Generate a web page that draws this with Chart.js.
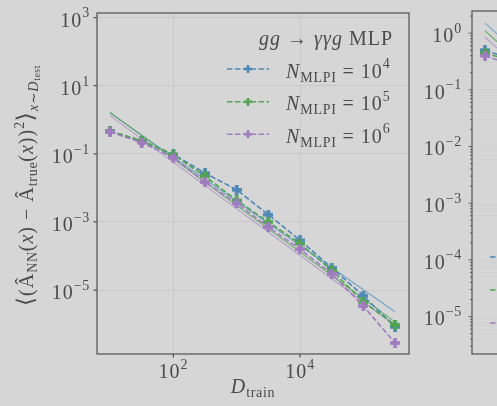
<!DOCTYPE html>
<html><head><meta charset="utf-8">
<script src="https://cdn.jsdelivr.net/npm/chart.js@4.4.0/dist/chart.umd.min.js"></script>
<style>
html,body{margin:0;padding:0;background:#d6d6d6;width:497px;height:406px;overflow:hidden;position:relative}
canvas{position:absolute;top:0}
#c1{left:0}
#c2{left:415px}
</style></head><body>
<canvas id="c1" width="497" height="406"></canvas>
<canvas id="c2" width="400" height="406"></canvas>
<script>
// ---------- data (left panel: gg -> γγg MLP) ----------
const trainSizes = [10, 31.6, 100, 316, 1000, 3162, 10000, 31623, 100000, 316228];
const mseN1e4 = [0.46, 0.236, 0.096, 0.0272, 0.0088, 1.63e-3, 2.9e-4, 4.5e-5, 6.8e-6, 8.3e-7];
const mseN1e5 = [0.47, 0.245, 0.095, 0.022, 4.3e-3, 1.0e-3, 2.3e-4, 3.8e-5, 4.5e-6, 9.5e-7];
const mseN1e6 = [0.44, 0.214, 0.078, 0.0148, 3.55e-3, 7.1e-4, 1.58e-4, 3.0e-5, 3.4e-6, 2.8e-7];
const fitX = [10, 316228];
const fitN1e4 = [1.58, 2.3e-6];
const fitN1e5 = [1.66, 1.15e-6];
const fitN1e6 = [1.32, 9.3e-7];
const seriesLabels = ['4', '5', '6'];
const leftYTicks = ['3', '1', '-1', '-3', '-5'];
const leftXTicks = ['2', '4'];
// ---------- data (right panel, only the left edge is in view) ----------
const rightX = [10, 31.6];
const rightN1e4 = [0.50, 0.32];
const rightN1e5 = [0.45, 0.30];
const rightN1e6 = [0.40, 0.26];
const rightFitN1e4 = [1.5, 4.7e-5];
const rightFitN1e5 = [1.1, 3.2e-5];
const rightFitN1e6 = [0.85, 2.4e-5];
const rightYTicks = ['0', '-1', '-2', '-3', '-4', '-5'];

// ---------- styles ----------
const BG = '#d6d6d6', TXT = '#4b4b4b', SPINE = '#565656', GRID = '#c8c8c8', MINORGRID = '#cecece';
const COL = ['#4d88b6', '#52a352', '#a07cc0'];
const FITCOL = ['rgba(100,155,195,0.85)', 'rgba(95,170,95,0.85)', 'rgba(175,145,200,0.85)'];
const SERIF = '"Liberation Serif","DejaVu Serif",serif';

function plusMarker(color, size, thick) {
  const c = document.createElement('canvas');
  c.width = size; c.height = size;
  const g = c.getContext('2d');
  g.fillStyle = color;
  const a = (size - thick) / 2;
  g.fillRect(a, 0, thick, size);
  g.fillRect(0, a, size, thick);
  return c;
}
function pts(xs, ys) { return xs.map((x, i) => ({x: x, y: ys[i]})); }
function fnt(sz, it) { return (it ? 'italic ' : '') + sz + 'px ' + SERIF; }
function setFont(ctx, s) {
  const sz = s.sz || 20;
  ctx.font = fnt(sz, s.it);
  ctx.letterSpacing = (sz * 0.05).toFixed(2) + 'px';
}
function richWidth(ctx, segs) {
  let w = 0;
  for (const s of segs) { setFont(ctx, s); w += ctx.measureText(s.t).width; }
  return w;
}
function drawRich(ctx, segs, x, y, align) {
  const w = richWidth(ctx, segs);
  let cx = align === 'right' ? x - w : align === 'center' ? x - w / 2 : x;
  ctx.textAlign = 'left'; ctx.textBaseline = 'alphabetic';
  for (const s of segs) {
    setFont(ctx, s);
    ctx.fillText(s.t, cx, y + (s.dy || 0));
    cx += ctx.measureText(s.t).width;
  }
  ctx.letterSpacing = '0px';
  return w;
}
function pow10(e) { return [{t: '10', sz: 20}, {t: e.replace('-', '\u2212'), sz: 14, dy: -9.4}]; }

function dataset(xs, ys, color, ord) {
  return {data: pts(xs, ys), borderColor: color, backgroundColor: color, borderWidth: 1.6,
    borderDash: [5.5, 2.4], pointStyle: plusMarker(color, 10, 3.6), pointRadius: 5,
    tension: 0, order: ord};
}
function fitset(xs, ys, color, ord) {
  return {data: pts(xs, ys), borderColor: color, borderWidth: 1.1, pointRadius: 0,
    tension: 0, order: ord};
}
function logScale(min, max, ticks, gridColor) {
  return {type: 'logarithmic', min: min, max: max, bounds: 'data',
    ticks: {display: false}, border: {display: false},
    grid: {drawTicks: false, color: gridColor || GRID, lineWidth: 0.9},
    afterBuildTicks: s => { s.ticks = ticks.map(v => ({value: v})); }};
}
function handle(ctx, x0, x1, y, color, withMarker) {
  ctx.save();
  ctx.strokeStyle = color; ctx.lineWidth = 1.6; ctx.setLineDash([5.5, 2.4]);
  ctx.beginPath(); ctx.moveTo(x0, y); ctx.lineTo(x1, y); ctx.stroke();
  ctx.restore();
  if (withMarker) {
    const m = plusMarker(color, 8, 2.6);
    ctx.drawImage(m, (x0 + x1) / 2 - 4, y - 4);
  }
}

// ---------- left chart ----------
const leftPlugin = {
  id: 'leftDecor',
  afterDraw(chart) {
    const ctx = chart.ctx, a = chart.chartArea;
    const xs = chart.scales.x, ys = chart.scales.y;
    ctx.save();
    ctx.strokeStyle = SPINE; ctx.lineWidth = 1.25;
    ctx.strokeRect(a.left, a.top, a.right - a.left, a.bottom - a.top);
    ctx.fillStyle = TXT;
    ctx.beginPath();
    for (const e of leftYTicks) {
      const py = ys.getPixelForValue(Math.pow(10, +e));
      ctx.moveTo(a.left - 3.5, py); ctx.lineTo(a.left, py);
    }
    for (const e of leftXTicks) {
      const px = xs.getPixelForValue(Math.pow(10, +e));
      ctx.moveTo(px, a.bottom); ctx.lineTo(px, a.bottom + 3.5);
    }
    ctx.stroke();
    for (const e of leftYTicks) {
      const py = ys.getPixelForValue(Math.pow(10, +e));
      drawRich(ctx, pow10(e), a.left - 7, py + 9.3, 'right');
    }
    for (const e of leftXTicks) {
      const px = xs.getPixelForValue(Math.pow(10, +e));
      drawRich(ctx, pow10(e), px, a.bottom + 24, 'center');
    }
    // x label
    drawRich(ctx, [{t: 'D', it: 1}, {t: 'train', sz: 14, dy: 4}], (a.left + a.right) / 2, 393, 'center');
    // y label
    ctx.save();
    ctx.translate(33, (a.top + a.bottom) / 2 + 2);
    ctx.rotate(-Math.PI / 2);
    drawRich(ctx, [
      {t: '\u27E8', sz: 23}, {t: '('}, {t: '\u00C2'}, {t: 'NN', sz: 14, dy: 4},
      {t: '('}, {t: 'x', it: 1}, {t: ')'}, {t: ' \u2212 '}, {t: '\u00C2'},
      {t: 'true', sz: 14, dy: 4}, {t: '('}, {t: 'x', it: 1}, {t: ')'}, {t: ')'},
      {t: '2', sz: 14, dy: -9}, {t: '\u27E9', sz: 23},
      {t: 'x', sz: 14, it: 1, dy: 5}, {t: '\u223C', sz: 14, dy: 5}, {t: 'D', sz: 14, it: 1, dy: 5},
      {t: 'test', sz: 10, dy: 7}
    ], 0, 0, 'center');
    ctx.restore();
    // legend
    drawRich(ctx, [{t: 'gg', it: 1}, {t: ' \u2192 '}, {t: '\u03B3\u03B3g', it: 1}, {t: ' MLP'}], 393, 45, 'right');
    const ly = [69, 101.7, 134.3];
    for (let i = 0; i < 3; i++) {
      handle(ctx, 227, 269, ly[i], COL[i], true);
      ctx.fillStyle = TXT;
      drawRich(ctx, [{t: 'N', it: 1}, {t: 'MLPI', sz: 14, dy: 4}, {t: ' = '}].concat(pow10(seriesLabels[i])), 286, ly[i] + 8.5, 'left');
    }
    ctx.restore();
  }
};

new Chart(document.getElementById('c1'), {
  type: 'line',
  data: {datasets: [
    dataset(trainSizes, mseN1e6, COL[2], 1),
    dataset(trainSizes, mseN1e5, COL[1], 2),
    dataset(trainSizes, mseN1e4, COL[0], 3),
    fitset(fitX, fitN1e6, FITCOL[2], 4),
    fitset(fitX, fitN1e5, FITCOL[1], 5),
    fitset(fitX, fitN1e4, FITCOL[0], 6)
  ]},
  options: {
    responsive: false, animation: false, devicePixelRatio: 1,
    layout: {padding: {left: 97, right: 88, top: 13, bottom: 52}},
    plugins: {legend: {display: false}, tooltip: {enabled: false}},
    scales: {
      x: logScale(Math.pow(10, 0.795), Math.pow(10, 5.72), [100, 10000]),
      y: logScale(Math.pow(10, -6.877), Math.pow(10, 3.135), [1e-5, 1e-3, 1e-1, 10, 1000])
    }
  },
  plugins: [leftPlugin]
});

// ---------- right chart ----------
const rightMinor = [];
for (let k = -6; k <= 0; k++) for (let m = 1; m <= 9; m++) {
  const v = m * Math.pow(10, k);
  if (v > Math.pow(10, -5.66) && v < Math.pow(10, 0.39)) rightMinor.push(v);
}
const rightPlugin = {
  id: 'rightDecor',
  afterDraw(chart) {
    const ctx = chart.ctx, a = chart.chartArea, ys = chart.scales.y;
    ctx.save();
    ctx.strokeStyle = SPINE; ctx.lineWidth = 1.25;
    ctx.strokeRect(a.left, a.top, a.right - a.left, a.bottom - a.top);
    ctx.beginPath();
    for (const v of rightMinor) {
      const py = ys.getPixelForValue(v);
      const major = Math.abs(Math.log10(v) - Math.round(Math.log10(v))) < 1e-9;
      ctx.moveTo(a.left - (major ? 3.5 : 2), py); ctx.lineTo(a.left, py);
    }
    ctx.lineWidth = 0.9; ctx.stroke();
    ctx.fillStyle = TXT;
    for (const e of rightYTicks) {
      const py = ys.getPixelForValue(Math.pow(10, +e));
      drawRich(ctx, pow10(e), a.left - 10, py + 8.8, 'right');
    }
    const ly = [257, 290, 323];
    for (let i = 0; i < 3; i++) handle(ctx, a.left + 18, a.left + 60, ly[i], COL[i], true);
    ctx.restore();
  }
};
const rightYScale = logScale(Math.pow(10, -5.66), Math.pow(10, 0.39), rightMinor, MINORGRID);
rightYScale.grid.lineWidth = 0.7;
new Chart(document.getElementById('c2'), {
  type: 'line',
  data: {datasets: [
    dataset(rightX, rightN1e6, COL[2], 1),
    dataset(rightX, rightN1e5, COL[1], 2),
    dataset(rightX, rightN1e4, COL[0], 3),
    fitset(fitX, rightFitN1e6, FITCOL[2], 4),
    fitset(fitX, rightFitN1e5, FITCOL[1], 5),
    fitset(fitX, rightFitN1e4, FITCOL[0], 6)
  ]},
  options: {
    responsive: false, animation: false, devicePixelRatio: 1,
    layout: {padding: {left: 57, right: 31, top: 11, bottom: 52}},
    plugins: {legend: {display: false}, tooltip: {enabled: false}},
    scales: {
      x: logScale(Math.pow(10, 0.795), Math.pow(10, 5.72), [100, 10000]),
      y: rightYScale
    }
  },
  plugins: [rightPlugin]
});
</script>
</body></html>
